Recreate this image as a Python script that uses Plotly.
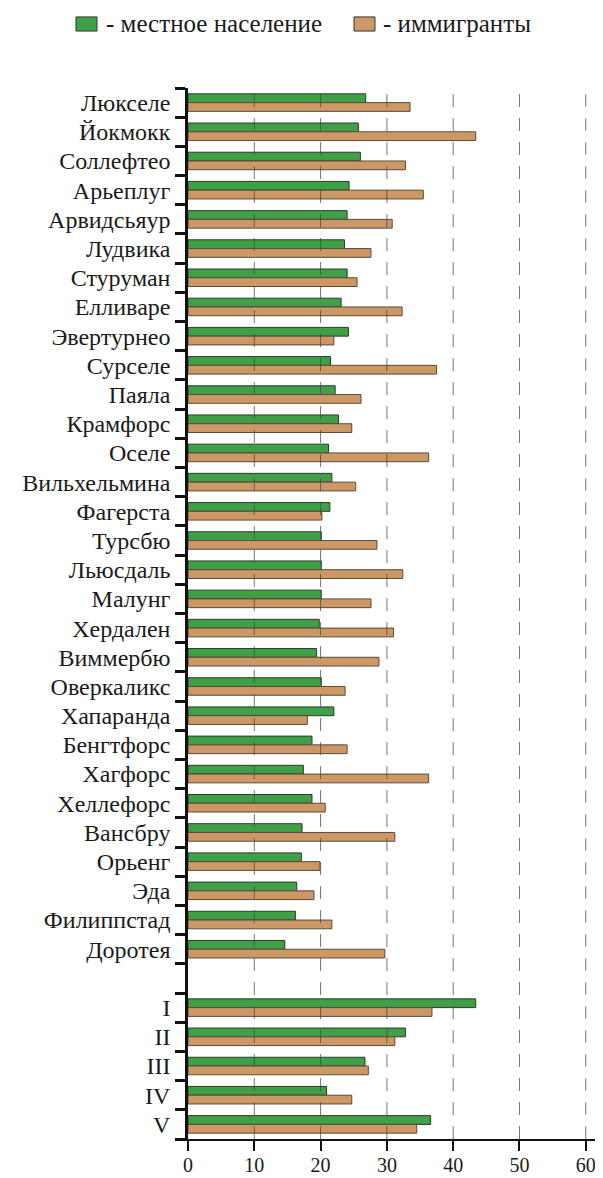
import plotly.graph_objects as go

towns = ["Люкселе", "Йокмокк", "Соллефтео", "Арьеплуг", "Арвидсьяур", "Лудвика", "Стуруман",
         "Елливаре", "Эвертурнео", "Сурселе", "Паяла", "Крамфорс", "Оселе", "Вильхельмина",
         "Фагерста", "Турсбю", "Льюсдаль", "Малунг", "Хердален", "Виммербю", "Оверкаликс",
         "Хапаранда", "Бенгтфорс", "Хагфорс", "Хеллефорс", "Вансбру", "Орьенг", "Эда",
         "Филиппстад", "Доротея"]
local_towns = [26.8, 25.7, 26.0, 24.3, 24.0, 23.6, 24.0, 23.1, 24.2, 21.5, 22.2, 22.7, 21.2, 21.7,
               21.4, 20.1, 20.1, 20.1, 19.8, 19.4, 20.1, 22.0, 18.7, 17.4, 18.7, 17.2, 17.1, 16.4,
               16.2, 14.6]
immig_towns = [33.5, 43.4, 32.8, 35.5, 30.8, 27.6, 25.5, 32.3, 22.0, 37.5, 26.1, 24.7, 36.3, 25.3,
               20.2, 28.5, 32.4, 27.6, 31.0, 28.8, 23.7, 18.0, 24.0, 36.3, 20.7, 31.2, 19.9, 19.0,
               21.7, 29.7]
groups = ["I", "II", "III", "IV", "V"]
local_groups = [43.4, 32.8, 26.7, 20.9, 36.6]
immig_groups = [36.8, 31.2, 27.2, 24.7, 34.5]
gap_label = " "
x_ticks = [0, 10, 20, 30, 40, 50, 60]

categories = towns + [gap_label] + groups
local_vals = local_towns + [None] + local_groups
immig_vals = immig_towns + [None] + immig_groups

GREEN = "#40a047"
TAN = "#cc9966"
FONT = "Liberation Serif"

fig = go.Figure()
fig.add_trace(go.Bar(y=categories, x=local_vals, orientation="h", name="- местное население",
                     marker=dict(color=GREEN, line=dict(color="#2b3a2b", width=1))))
fig.add_trace(go.Bar(y=categories, x=immig_vals, orientation="h", name="- иммигранты",
                     marker=dict(color=TAN, line=dict(color="#5a4a3a", width=1))))

# dashed vertical grid lines drawn above bars
for v in x_ticks[1:]:
    fig.add_shape(type="line", xref="x", yref="paper", x0=v, x1=v, y0=0, y1=1,
                  line=dict(color="rgba(70,70,70,0.75)", width=1, dash="13px,11px"), layer="above")

# legend (custom)
leg = [(-0.2699, -0.2193, -0.2024, GREEN, "- местное население"),
       (0.400, 0.4506, 0.465, TAN, "- иммигранты")]
for x0, x1, xt, col, txt in leg:
    fig.add_shape(type="rect", xref="paper", yref="paper", x0=x0, x1=x1, y0=1.0542, y1=1.0676,
                  fillcolor=col, line=dict(color="#333333", width=1))
    fig.add_annotation(xref="paper", yref="paper", x=xt, y=1.0609, text=txt, showarrow=False,
                       xanchor="left", yanchor="middle", font=dict(family=FONT, size=25, color="#1a1a1a"))

# page body has an 8px margin, so the figure is 8px smaller than the window
fig.update_layout(
    width=595, height=1170,
    margin=dict(l=180, r=0, t=80, b=39),
    barmode="group", bargap=0.4, bargroupgap=0,
    showlegend=False,
    plot_bgcolor="white", paper_bgcolor="white",
    font=dict(family=FONT, color="#1a1a1a"),
)
fig.update_xaxes(range=[0, 62.6], tickvals=x_ticks, ticks="outside", ticklen=10, tickwidth=2,
                 tickcolor="#111", showline=True, linecolor="#111", linewidth=2, showgrid=False,
                 zeroline=False, tickfont=dict(family=FONT, size=20, color="#1a1a1a"),
                 ticklabelstandoff=-3, automargin=False)
fig.update_yaxes(type="category", categoryorder="array", categoryarray=categories,
                 tickmode="array", tickvals=categories, ticktext=categories,
                 range=[len(categories) - 0.5, -0.5], tickson="boundaries", ticks="outside",
                 ticklen=10, tickwidth=2.5, tickcolor="#111", showline=True, linecolor="#111",
                 linewidth=2.5, showgrid=False, tickfont=dict(family=FONT, size=24, color="#1a1a1a"),
                 ticklabelstandoff=10, automargin=False)

fig.write_html("out.html")
